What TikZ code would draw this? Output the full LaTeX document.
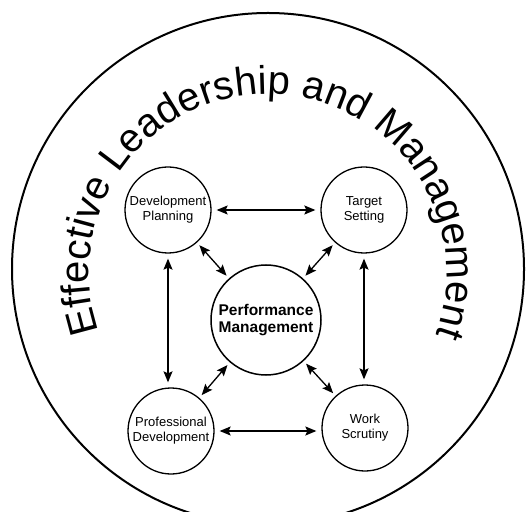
\documentclass[tikz,border=0pt]{standalone}
\usepackage{fontspec}
\setmainfont{Liberation Sans}
\usetikzlibrary{arrows.meta,decorations.text}
\begin{document}
\begin{tikzpicture}[x=1pt,y=1pt,
  small/.style={circle,draw,line width=1.3pt,minimum size=86pt,inner sep=0pt,align=center,font=\fontsize{13}{15}\selectfont},
  big/.style={circle,draw,line width=1.5pt,minimum size=110pt,inner sep=0pt,align=center,font=\bfseries\fontsize{15.5}{17.5}\selectfont},
  tip/.tip={Stealth[length=11pt,width=9pt,inset=2pt]},
  link/.style={tip-tip,line width=1.3pt,shorten <=5pt,shorten >=5pt},
  diag/.style={link,shorten <=3.5pt,shorten >=3.5pt}]
\useasboundingbox (0,0) rectangle (526,511);
\clip (0,0) rectangle (526,511);
\node[circle,draw,line width=2pt,minimum size=512pt,inner sep=0pt] (outer) at (268,242) {};
\path[decorate,decoration={text along path,text align=center,
  text={|\fontsize{40}{40}\selectfont|Effective Leadership and Management}}]
  (268,238) ++(201:179) arc[start angle=201,end angle=-22,radius=179];
\node[small] (DP) at (168,301) {Development\\Planning};
\node[small] (TS) at (364,301) {Target\\Setting};
\node[big]   (PM) at (266,191) {Performance\\Management};
\node[small] (PD) at (171,80)  {Professional\\Development};
\node[small] (WS) at (365,83)  {Work\\Scrutiny};
\draw[link] (DP.east) -- (DP.east -| TS.west);
\draw[link] (PD.east) -- (PD.east -| WS.west);
\draw[link] (DP.south) -- (DP.south |- PD.north);
\draw[link] (TS.south) -- (TS.south |- WS.north);
\draw[diag] (DP) -- (PM);
\draw[diag] (TS) -- (PM);
\draw[diag] (PM) -- (PD);
\draw[diag] (PM) -- (WS);
\end{tikzpicture}
\end{document}
